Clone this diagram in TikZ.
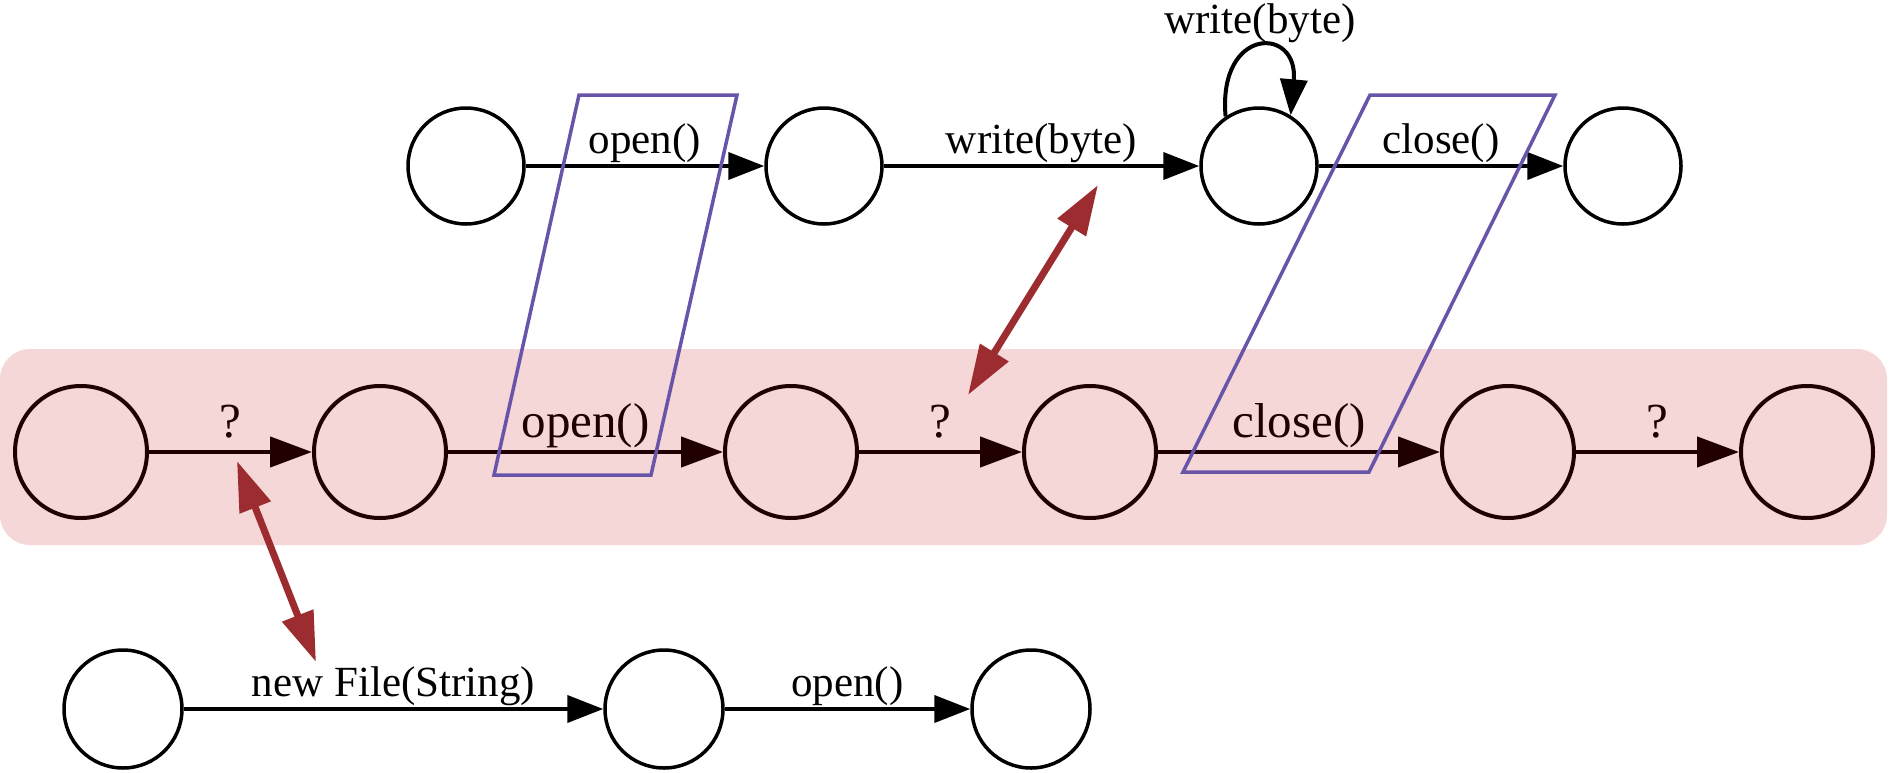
\documentclass[tikz,border=0pt]{standalone}
\usepackage{fontspec}
\setmainfont{Liberation Serif}
\usetikzlibrary{arrows.meta}
\definecolor{bandpink}{RGB}{246,215,216}
\definecolor{boxpurple}{RGB}{104,84,168}
\definecolor{linkred}{RGB}{156,44,47}
\definecolor{darkbrown}{RGB}{32,0,0}

\begin{document}
\begin{tikzpicture}[x=1pt,y=-1pt,
  stnode/.style={draw, circle, line width=3.5pt, minimum size=116pt, inner sep=0pt},
  bigst/.style={draw=darkbrown, circle, line width=4pt, minimum size=132pt, inner sep=0pt},
  trans/.style={line width=4pt, -{Triangle[length=36pt,width=27pt]}},
  bigtrans/.style={draw=darkbrown, line width=4.5pt, -{Triangle[length=42pt,width=30pt]}},
  lbl/.style={anchor=base, yshift=13pt, inner sep=0pt, font=\fontsize{43}{50}\selectfont},
  biglbl/.style={anchor=base, yshift=15pt, inner sep=0pt, font=\fontsize{49}{56}\selectfont, text=darkbrown},
  callbox/.style={draw=boxpurple, line width=3.5pt},
  mapping/.style={draw=linkred, line width=7pt, {Triangle[length=50pt,width=32pt]}-{Triangle[length=50pt,width=32pt]}}]
\useasboundingbox (0,0) rectangle (1891,772);

% the sequence under test
\fill[bandpink, rounded corners=30pt] (0,349) rectangle (1887,545);

% top: write protocol
\node[stnode] (t1) at (466,166) {};
\node[stnode] (t2) at (824,166) {};
\node[stnode] (t3) at (1259,166) {};
\node[stnode] (t4) at (1623,166) {};

\draw[trans] (t1) -- node[lbl] {open()} (t2);
\draw[trans] (t2) -- node[lbl] {write(byte)} (t3);
\draw[trans] (t3) -- node[lbl] {close()} (t4);
\draw[trans] (t3.124) .. controls +(-8,-90) and +(8,-90) .. (t3.58);
\node[lbl] (loopl) at (1260,46) {write(byte)};

% middle
\node[bigst] (m1) at (81,452) {};
\node[bigst] (m2) at (380,452) {};
\node[bigst] (m3) at (791,452) {};
\node[bigst] (m4) at (1090,452) {};
\node[bigst] (m5) at (1508,452) {};
\node[bigst] (m6) at (1807,452) {};

\draw[bigtrans] (m1) -- node[biglbl] {?} (m2);
\draw[bigtrans] (m2) -- node[biglbl] {open()} (m3);
\draw[bigtrans] (m3) -- node[biglbl] {?} (m4);
\draw[bigtrans] (m4) -- node[biglbl] {close()} (m5);
\draw[bigtrans] (m5) -- node[biglbl] {?} (m6);

% bottom: file protocol
\node[stnode, minimum size=118pt] (b1) at (123,709) {};
\node[stnode, minimum size=118pt] (b2) at (664,709) {};
\node[stnode, minimum size=118pt] (b3) at (1031,709) {};

\draw[trans] (b1) -- node[lbl] {new File(String)} (b2);
\draw[trans] (b2) -- node[lbl] {open()} (b3);

% matched calls
\draw[callbox] (579,95) -- (737,95) -- (651,475) -- (494,475) -- cycle;
\draw[callbox] (1370,95) -- (1555,95) -- (1369,472) -- (1183,472) -- cycle;

% correspondences
\coordinate (qa) at (237,461);
\coordinate (nf) at (316,662);
\coordinate (wb) at (1098,185);
\coordinate (qb) at (968,395);
\draw[mapping] (qa) -- (nf);
\draw[mapping] (wb) -- (qb);
\end{tikzpicture}
\end{document}
